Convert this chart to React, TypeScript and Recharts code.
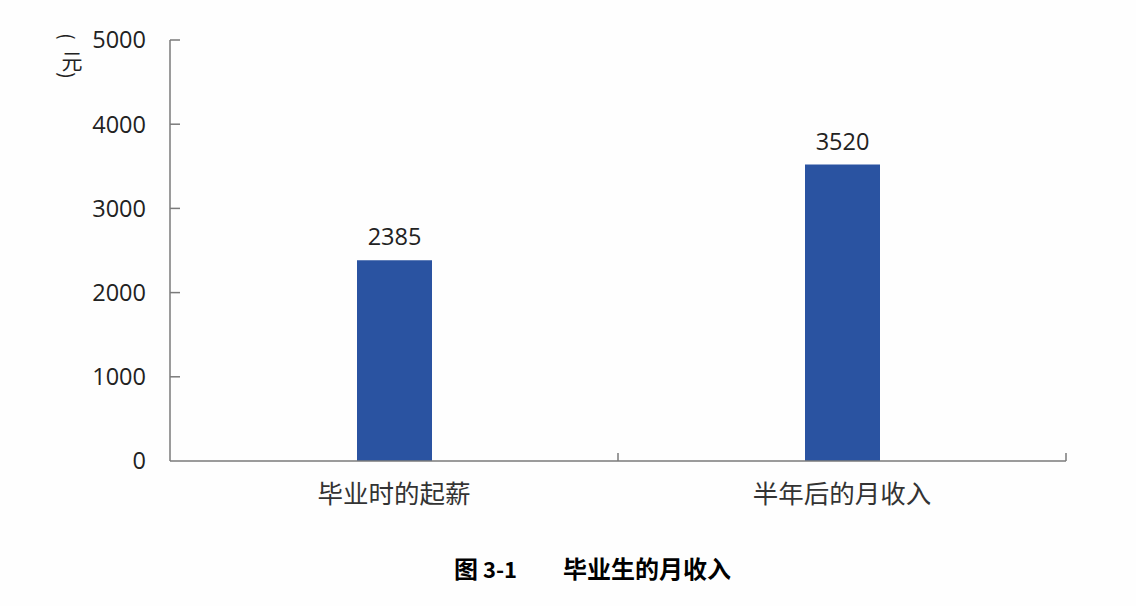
import React from "react";
import { BarChart, Bar, XAxis, YAxis, LabelList } from "recharts";

const categories = ["毕业时的起薪", "半年后的月收入"];
const incomeValues = [2385, 3520];
const yTicks = [0, 1000, 2000, 3000, 4000, 5000];
const yAxisTitleOpen = "(";
const yAxisTitleUnit = "元";
const yAxisTitleClose = ")";
const figureMark = "图";
const figureNo = "3-1";
const figureTitle = "毕业生的月收入";

const data = categories.map((name, i) => ({ name, value: incomeValues[i] }));

const AXIS_COLOR = "#7a7a7a";
const TEXT_COLOR = "#222";
const BAR_COLOR = "#2a53a1";
const FONT = "'Open Sans', 'Noto Sans CJK SC', sans-serif";
const CJK = "'Noto Sans CJK SC', sans-serif";

const Y_MARGIN = 24;
const X_MARGIN = 42;

const YTick = (props: any) => {
  const { x, y, payload } = props;
  const axisX = x + Y_MARGIN;
  return (
    <g>
      {payload.value !== 0 && (
        <line x1={axisX} x2={axisX + 10} y1={y} y2={y} stroke={AXIS_COLOR} strokeWidth={1.5} />
      )}
      <text x={x} y={y} dy="0.36em" textAnchor="end" fill={TEXT_COLOR} fontSize={23.5} fontFamily={FONT}>
        {payload.value}
      </text>
    </g>
  );
};

const XTick = (props: any) => {
  const { x, y, payload, width, visibleTicksCount } = props;
  const axisY = y - X_MARGIN;
  const off =
    payload && typeof payload.offset === "number" && payload.offset > 0
      ? payload.offset
      : width / (visibleTicksCount || 2) / 2;
  const bx = x + off;
  return (
    <g>
      <line x1={bx} x2={bx} y1={axisY} y2={axisY - 8} stroke={AXIS_COLOR} strokeWidth={1.5} />
      <text x={x} y={y} textAnchor="middle" fill="#333" fontSize={25.5} fontFamily={CJK}>
        {payload.value}
      </text>
    </g>
  );
};

export default function App() {
  return (
    <div style={{ position: "relative", width: 1136, height: 606, background: "#fefefe" }}>
      <style>{"body{margin:0}"}</style>
      <BarChart
        width={1136}
        height={606}
        data={data}
        margin={{ top: 40, right: 70, bottom: 0, left: 0 }}
      >
        <YAxis
          type="number"
          domain={[0, 5000]}
          ticks={yTicks}
          width={170}
          tickSize={0}
          tickMargin={Y_MARGIN}
          tickLine={false}
          axisLine={{ stroke: AXIS_COLOR, strokeWidth: 1.5 }}
          tick={<YTick />}
          interval={0}
        />
        <XAxis
          dataKey="name"
          height={145}
          tickSize={0}
          tickMargin={X_MARGIN}
          tickLine={false}
          axisLine={{ stroke: AXIS_COLOR, strokeWidth: 1.5 }}
          tick={<XTick />}
          interval={0}
        />
        <Bar dataKey="value" fill={BAR_COLOR} barSize={75} isAnimationActive={false}>
          <LabelList
            dataKey="value"
            position="top"
            offset={15}
            fill={TEXT_COLOR}
            fontSize={23.5}
            fontFamily={FONT}
          />
        </Bar>
      </BarChart>
      <svg
        width={60}
        height={70}
        style={{ position: "absolute", left: 40, top: 20, overflow: "visible" }}
        fontFamily={CJK}
        fill={TEXT_COLOR}
      >
        <text
          x={28}
          y={16.5}
          fontSize={19}
          textAnchor="middle"
          dominantBaseline="central"
          transform="rotate(90 28 16.5)"
        >
          {yAxisTitleOpen}
        </text>
        <text x={32} y={40} fontSize={21} textAnchor="middle" dominantBaseline="central">
          {yAxisTitleUnit}
        </text>
        <text
          x={28}
          y={55.5}
          fontSize={19}
          textAnchor="middle"
          dominantBaseline="central"
          transform="rotate(90 28 55.5)"
        >
          {yAxisTitleClose}
        </text>
      </svg>
      <div
        style={{
          position: "absolute",
          left: 454,
          top: 554,
          fontFamily: CJK,
          fontWeight: 700,
          fontSize: 24,
          color: "#000",
          whiteSpace: "pre",
          lineHeight: 1.2,
        }}
      >
        <span>{figureMark}</span>
        <span style={{ position: "absolute", left: 29, fontSize: 22, top: 1 }}>{figureNo}</span>
        <span style={{ position: "absolute", left: 109 }}>{figureTitle}</span>
      </div>
    </div>
  );
}
